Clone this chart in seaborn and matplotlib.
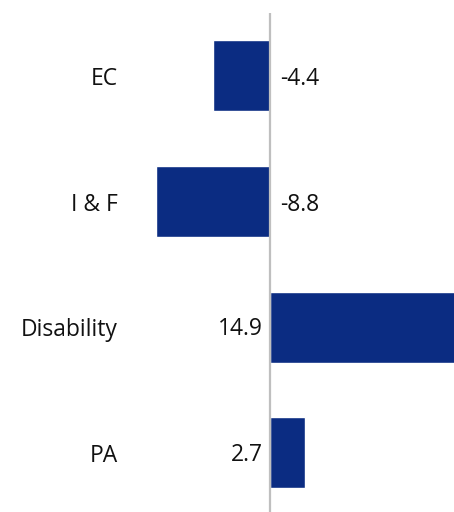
import matplotlib
matplotlib.use("Agg")
import matplotlib.pyplot as plt
import seaborn as sns
import pandas as pd

categories = ["EC", "I & F", "Disability", "PA"]
values = [-4.4, -8.8, 14.9, 2.7]
value_labels = ["-4.4", "-8.8", "14.9", "2.7"]

sns.set_theme(style="white")
plt.rcParams["font.family"] = ["Open Sans", "DejaVu Sans"]

df = pd.DataFrame({"category": categories, "value": values})

fig = plt.figure(figsize=(4.54, 5.12), dpi=100)
ax = fig.add_axes([140 / 454, 0.0, (454 - 140) / 454, (512 - 13) / 512])

sns.barplot(data=df, y="category", x="value", orient="h", color="#0B2C82",
            saturation=1, width=0.565, ax=ax)

ax.set_xlim(-10.04, 14.21)
ax.set_ylim(3.47, -0.5)
ax.axvline(0, color="#BFBFBF", lw=1.6, zorder=3)

fs = 16.5
for i, (v, lab) in enumerate(zip(values, value_labels)):
    if v < 0:
        ax.annotate(lab, (0, i), xytext=(7, -2.5), textcoords="offset points",
                    ha="left", va="center", fontsize=fs, color="#111111")
    else:
        ax.annotate(lab, (0, i), xytext=(-5, -1.5), textcoords="offset points",
                    ha="right", va="center", fontsize=fs, color="#111111")

for s in ax.spines.values():
    s.set_visible(False)
ax.set_xticks([])
ax.set_xlabel("")
ax.set_ylabel("")
ax.tick_params(axis="y", length=0, pad=16, labelsize=fs, labelcolor="#111111")

fig.savefig("out.png", dpi=100)
